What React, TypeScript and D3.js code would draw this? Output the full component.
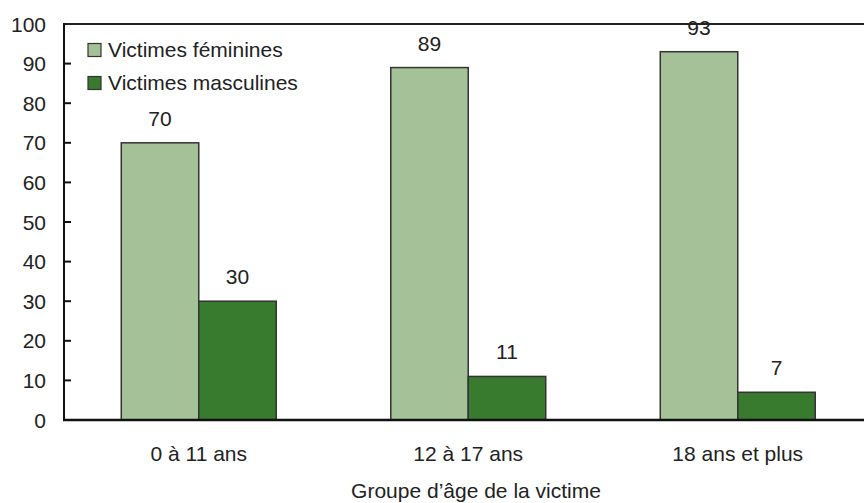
import React from "react";
import * as d3 from "d3";

const categories = ["0 à 11 ans", "12 à 17 ans", "18 ans et plus"];
const seriesNames = ["Victimes féminines", "Victimes masculines"];
const female = [70, 89, 93];
const male = [30, 11, 7];
const yTicks = [0, 10, 20, 30, 40, 50, 60, 70, 80, 90, 100];
const colors = ["#a5c197", "#387b2e"];

const W = 864;
const H = 503;
const FONT = "'Liberation Sans', Arial, sans-serif";
const FS = 21;

export default function App() {
  const left = 64;
  const top = 24;
  const bottom = 420;
  const x0 = d3
    .scaleBand<string>()
    .domain(categories)
    .range([left, 872.5])
    .paddingInner(0.425)
    .paddingOuter(0.2125);
  const x1 = d3.scaleBand<string>().domain(seriesNames).range([0, x0.bandwidth()]);
  const y = d3.scaleLinear().domain([0, 100]).range([bottom, top]);
  const series = [female, male];

  return (
    <svg
      width={W}
      height={H}
      style={{ position: "absolute", left: 0, top: 0, background: "#fff" }}
      fontFamily={FONT}
    >
      {/* top border */}
      <line x1={left - 1} x2={W} y1={y(100)} y2={y(100)} stroke="#222" strokeWidth={2} />
      {/* bars */}
      {categories.map((c, i) => (
        <g key={c}>
          {series.map((s, j) => {
            const bx = (x0(c) as number) + (x1(seriesNames[j]) as number);
            const bw = x1.bandwidth();
            return (
              <g key={j}>
                <rect
                  x={bx}
                  y={y(s[i])}
                  width={bw}
                  height={y(0) - y(s[i])}
                  fill={colors[j]}
                  stroke="#333"
                  strokeWidth={1.5}
                />
                <text
                  x={bx + bw / 2}
                  y={y(s[i]) - 17}
                  textAnchor="middle"
                  fontSize={FS}
                  fill="#222"
                >
                  {s[i]}
                </text>
              </g>
            );
          })}
          <text
            x={(x0(c) as number) + x0.bandwidth() / 2}
            y={461}
            textAnchor="middle"
            fontSize={FS}
            fill="#222"
          >
            {c}
          </text>
        </g>
      ))}
      {/* y axis */}
      <line x1={left} x2={left} y1={y(100) - 1} y2={y(0) + 1} stroke="#111" strokeWidth={2} />
      {yTicks.map((t) => (
        <g key={t}>
          {t > 0 && t < 100 && (
            <line x1={left} x2={left + 7} y1={y(t)} y2={y(t)} stroke="#111" strokeWidth={2} />
          )}
          <text x={46} y={y(t)} dy="0.36em" textAnchor="end" fontSize={FS} fill="#222">
            {t}
          </text>
        </g>
      ))}
      {/* x axis */}
      <line x1={left - 1} x2={W} y1={y(0)} y2={y(0)} stroke="#111" strokeWidth={2.5} />
      {/* legend */}
      {seriesNames.map((n, j) => (
        <g key={n} transform={`translate(88, ${43.5 + j * 33})`}>
          <rect x={0} y={0} width={13} height={13} fill={colors[j]} stroke="#333" strokeWidth={1.2} />
          <text x={20} y={13.5} fontSize={FS} fill="#222">
            {n}
          </text>
        </g>
      ))}
      {/* x title */}
      <text x={476} y={498} textAnchor="middle" fontSize={FS} fill="#222">
        Groupe d’âge de la victime
      </text>
    </svg>
  );
}
